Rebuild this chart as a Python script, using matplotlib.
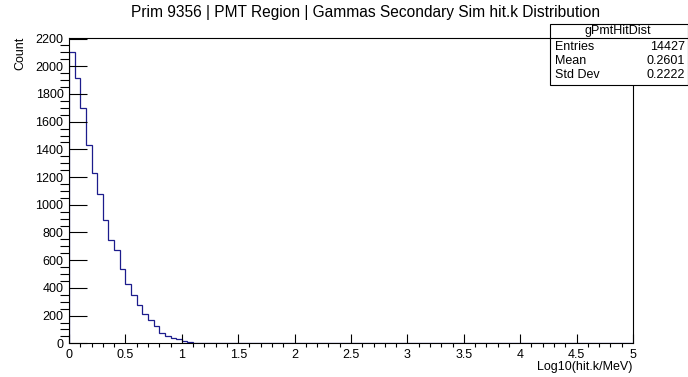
import numpy as np
import matplotlib
matplotlib.use("Agg")
import matplotlib.pyplot as plt
from matplotlib.patches import Rectangle
from matplotlib.ticker import MultipleLocator

plt.rcParams['font.family'] = ['Liberation Sans', 'DejaVu Sans']

# histogram: 100 bins of 0.05 from 0 to 5, counts (bins past 1.5 are empty)
x_lo, x_hi, n_bins = 0.0, 5.0, 100
counts_read = [2101, 1917, 1697, 1428, 1228, 1080, 892, 743, 676, 539,
               431, 351, 274, 209, 171, 125, 77, 53, 38, 29,
               14, 6, 0, 3, 3, 2, 1, 1, 3, 4]
counts = np.zeros(n_bins)
counts[:len(counts_read)] = counts_read

title = 'Prim 9356 | PMT Region | Gammas Secondary Sim hit.k Distribution'
xlabel = 'Log10(hit.k/MeV)'
ylabel = 'Count'
stat_name = 'gPmtHitDist'
stat_rows = [('Entries', '14427'), ('Mean', '0.2601'), ('Std Dev', '0.2222')]

W, H = 688, 377
def fx(px): return px / W
def fy(py): return 1 - py / H

fig = plt.figure(figsize=(W / 100, H / 100), dpi=100)
ax = fig.add_axes([fx(69), fy(343.3), fx(633) - fx(69), fy(37.7) - fy(343.3)])

edges = np.linspace(x_lo, x_hi, n_bins + 1)
ax.stairs(counts, edges, baseline=0, fill=False, color='#1c1c8c', lw=0.9)

ax.set_xlim(x_lo, x_hi)
ax.set_ylim(0, 1.05 * counts.max())
ax.xaxis.set_major_locator(MultipleLocator(0.5))
ax.xaxis.set_minor_locator(MultipleLocator(0.1))
ax.yaxis.set_major_locator(MultipleLocator(200))
ax.yaxis.set_minor_locator(MultipleLocator(50))
ax.xaxis.set_major_formatter(plt.FuncFormatter(lambda v, p: f'{v:g}'))
ax.tick_params(axis='both', direction='in', labelsize=9, width=0.8, top=False, right=False)
ax.tick_params(axis='y', which='major', length=13, pad=4)
ax.tick_params(axis='y', which='minor', length=6.5, width=0.8)
ax.tick_params(axis='x', which='major', length=6.5, pad=4)
ax.tick_params(axis='x', which='minor', length=3.2, width=0.8)
for s in ax.spines.values():
    s.set_linewidth(0.8)

fig.text(fx(366), fy(12), title, ha='center', va='center', fontsize=11.2)
fig.text(fx(632), fy(367), xlabel, ha='right', va='center', fontsize=9)
fig.text(fx(20), fy(37), ylabel, ha='center', va='top', rotation=90, fontsize=9)

# stats box
box_l, box_r, box_t, box_b, sep = 550, 687.5, 24.3, 85, 37.7
fig.add_artist(Rectangle((fx(box_l), fy(box_b)), fx(box_r) - fx(box_l), fy(box_t) - fy(box_b),
                         transform=fig.transFigure, facecolor='white', edgecolor='black', lw=0.8))
fig.add_artist(plt.Line2D([fx(box_l), fx(box_r)], [fy(sep), fy(sep)],
                          transform=fig.transFigure, color='black', lw=0.8))
fig.text(fx(618), fy(31), stat_name, ha='center', va='center', fontsize=9)
for i, (k, v) in enumerate(stat_rows):
    yy = fy(47.5 + i * 14)
    fig.text(fx(555), yy, k, ha='left', va='center', fontsize=9)
    fig.text(fx(685), yy, v, ha='right', va='center', fontsize=9)

fig.savefig('out.png', dpi=100)
